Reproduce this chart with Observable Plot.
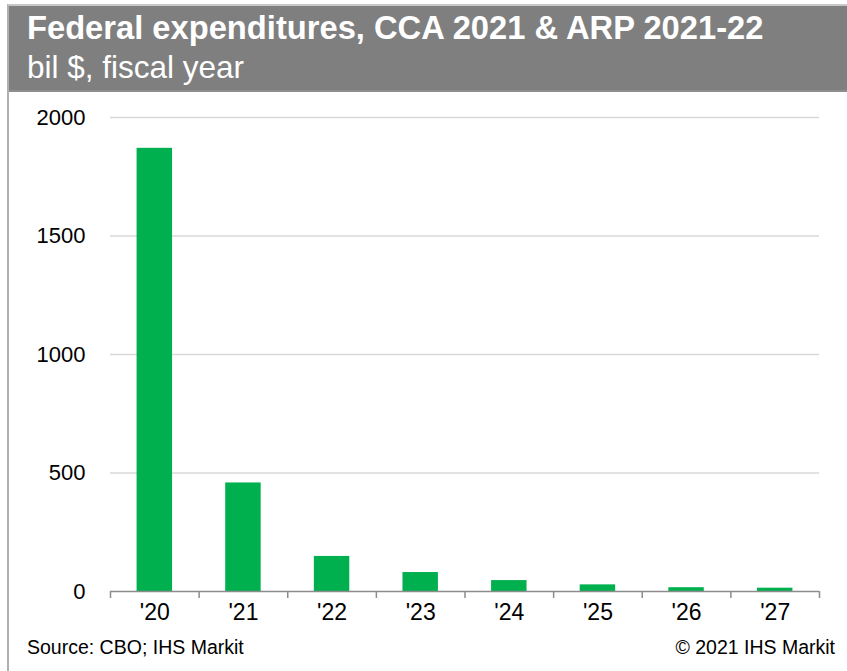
<!DOCTYPE html>
<html>
<head>
<meta charset="utf-8">
<script src="https://cdn.jsdelivr.net/npm/d3@7"></script>
<script src="https://cdn.jsdelivr.net/npm/@observablehq/plot@0.6"></script>
<style>
  html, body { margin: 0; padding: 0; background: #fff; }
  #wrap { position: relative; width: 847px; height: 671px; overflow: hidden; font-family: "Liberation Sans", Arial, sans-serif; }
  #frame { position: absolute; left: 7px; top: 4px; width: 845px; height: 680px; border-left: 2px solid #b0b0b0; border-top: 2px solid #c8c8c8; box-sizing: border-box; }
  #banner { position: absolute; left: 9px; top: 6px; width: 838px; height: 84px; background: #7f7f7f; border-bottom: 2px solid #8e8e8e; }
  #title { position: absolute; left: 27px; top: 9px; color: #fff; font-weight: bold; font-size: 32.7px; line-height: 37px; white-space: nowrap; }
  #subtitle { position: absolute; left: 27px; top: 49px; color: #fff; font-size: 31.5px; line-height: 36px; white-space: nowrap; }
  #chart { position: absolute; left: 0; top: 90px; }
  #source { position: absolute; left: 27px; top: 636px; font-size: 19.5px; color: #000; }
  #copy { position: absolute; right: 12px; top: 636px; font-size: 19.5px; color: #000; }
</style>
</head>
<body>
<div id="wrap">
  <div id="frame"></div>
  <div id="banner"></div>
  <div id="title">Federal expenditures, CCA 2021 &amp; ARP 2021-22</div>
  <div id="subtitle">bil $, fiscal year</div>
  <div id="chart"></div>
  <div id="source">Source: CBO; IHS Markit</div>
  <div id="copy">© 2021 IHS Markit</div>
</div>
<script>
const categories = ["'20", "'21", "'22", "'23", "'24", "'25", "'26", "'27"];
const values = [1870, 458, 148, 80, 46, 28, 16, 14];
const yTicks = [0, 500, 1000, 1500, 2000];

const data = categories.map((c, i) => ({i, label: c, value: values[i]}));
const boundaries = d3.range(-0.5, categories.length, 1);
const half = 0.2;

const chart = Plot.plot({
  width: 847,
  height: 580,
  marginTop: 27,
  marginBottom: 79,
  marginLeft: 110,
  marginRight: 28,
  style: {fontFamily: "'Liberation Sans', Arial, sans-serif", fontSize: "22px", color: "#000", background: "transparent"},
  x: {type: "linear", domain: [-0.5, categories.length - 0.5]},
  y: {domain: [0, 2000]},
  marks: [
    Plot.ruleY(yTicks.filter(d => d > 0), {stroke: "#d9d9d9", strokeWidth: 1.5, strokeOpacity: 1}),
    Plot.rectY(data, {x1: d => d.i - half, x2: d => d.i + half, y: "value", fill: "#00b04f"}),
    Plot.ruleY([0], {stroke: "#8c8c8c", strokeWidth: 1.5}),
    Plot.axisX({ticks: boundaries, tickSize: 7, tickFormat: () => "", stroke: "#8c8c8c", strokeWidth: 1.5, label: null}),
    Plot.axisX({ticks: d3.range(categories.length), tickSize: 0, tickPadding: 12, tickFormat: i => categories[i], fontSize: 23, fill: "#000", label: null}),
    Plot.axisY({ticks: yTicks, tickSize: 0, tickPadding: 25, tickFormat: d => String(d), fontSize: 22, fill: "#000", label: null})
  ]
});
document.getElementById("chart").appendChild(chart);
</script>
</body>
</html>
